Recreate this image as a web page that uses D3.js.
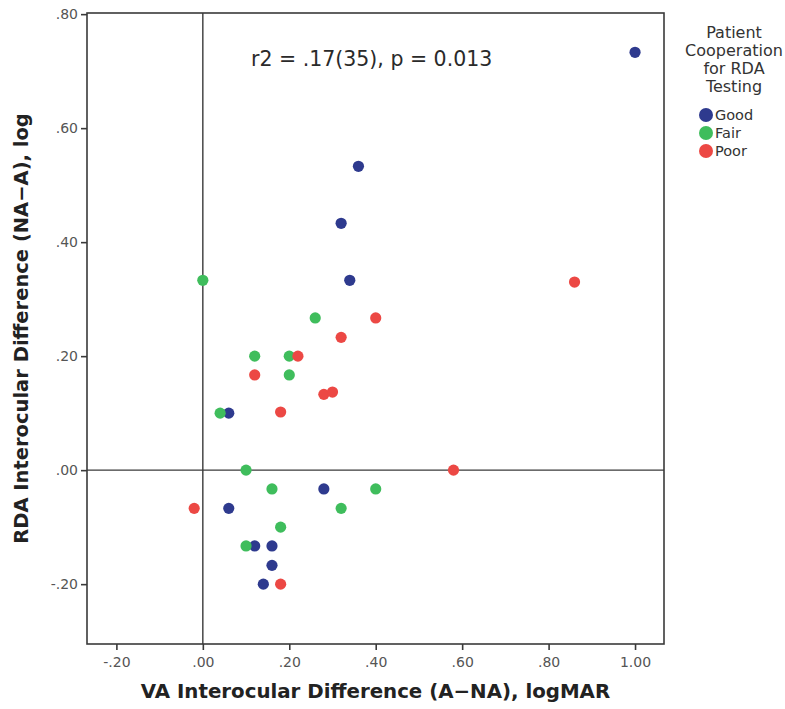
<!DOCTYPE html>
<html><head><meta charset="utf-8">
<script src="https://cdn.jsdelivr.net/npm/d3@7"></script>
<style>
body{margin:0;background:#fff;}
svg{display:block;font-family:"DejaVu Sans",Verdana,sans-serif;}
</style></head>
<body>
<svg id="c" width="785" height="709"></svg>
<script>
// ---- data ----
const categories = ["Good", "Fair", "Poor"];
const colors = ["#2e3a8e", "#3fbd5c", "#ec4844"];
const goodX = [1.00, 0.36, 0.32, 0.34, 0.06, 0.28, 0.06, 0.12, 0.16, 0.16, 0.14];
const goodY = [0.733, 0.533, 0.433, 0.333, 0.10, -0.033, -0.067, -0.133, -0.133, -0.167, -0.20];
const fairX = [0.00, 0.26, 0.12, 0.20, 0.20, 0.04, 0.10, 0.16, 0.40, 0.32, 0.18, 0.10];
const fairY = [0.333, 0.267, 0.20, 0.20, 0.167, 0.10, 0.00, -0.033, -0.033, -0.067, -0.10, -0.133];
const poorX = [0.86, 0.40, 0.32, 0.22, 0.12, 0.18, 0.28, 0.30, 0.58, -0.02, 0.18];
const poorY = [0.33, 0.267, 0.233, 0.20, 0.167, 0.102, 0.133, 0.137, 0.00, -0.067, -0.20];
const xTicks = [-0.2, 0, 0.2, 0.4, 0.6, 0.8, 1.0];
const yTicks = [-0.2, 0, 0.2, 0.4, 0.6, 0.8];
const xTitle = "VA Interocular Difference (A\u2212NA), logMAR";
const yTitle = "RDA Interocular Difference (NA\u2212A), log";
const annotation = "r2 = .17(35), p = 0.013";
const legendTitle = ["Patient", "Cooperation", "for RDA", "Testing"];

const seriesX = [goodX, fairX, poorX];
const seriesY = [goodY, fairY, poorY];

// ---- layout ----
const L = 87, R = 664, T = 13, B = 644;
const x = d3.scaleLinear().domain([-0.268, 1.067]).range([L, R]);
const y = d3.scaleLinear().domain([-0.305, 0.802]).range([B, T]);
const fmt = v => {
  if (v === 1) return "1.00";
  const neg = v < 0;
  const s = Math.abs(v).toFixed(2).replace(/^0\./, ".");
  return (neg ? "-" : "") + s;
};

const svg = d3.select("#c");
const axisCol = "#3a3a3a";

// reference lines
svg.append("line").attr("x1", x(0)).attr("x2", x(0)).attr("y1", T).attr("y2", B)
  .attr("stroke", axisCol).attr("stroke-width", 1.4);
svg.append("line").attr("x1", L).attr("x2", R).attr("y1", y(0)).attr("y2", y(0))
  .attr("stroke", axisCol).attr("stroke-width", 1.4);

// frame
svg.append("rect").attr("x", L).attr("y", T).attr("width", R - L).attr("height", B - T)
  .attr("fill", "none").attr("stroke", axisCol).attr("stroke-width", 1.6);

// axes
const xa = svg.append("g").attr("transform", `translate(0,${B})`)
  .call(d3.axisBottom(x).tickValues(xTicks).tickFormat(fmt).tickSize(6).tickPadding(4));
const ya = svg.append("g").attr("transform", `translate(${L},0)`)
  .call(d3.axisLeft(y).tickValues(yTicks).tickFormat(fmt).tickSize(6).tickPadding(3));
[xa, ya].forEach(a => {
  a.select(".domain").remove();
  a.selectAll(".tick line").attr("stroke", axisCol).attr("stroke-width", 1.6);
  a.selectAll(".tick text").attr("fill", "#555").attr("font-size", 14)
   .attr("font-family", "DejaVu Sans, sans-serif");
});
xa.selectAll(".tick text").attr("dy", "0.9em");

// points
seriesX.forEach((xs, i) => {
  svg.append("g").selectAll("circle").data(xs.map((v, j) => [v, seriesY[i][j]]))
    .join("circle").attr("cx", d => x(d[0])).attr("cy", d => y(d[1]))
    .attr("r", 5.6).attr("fill", colors[i]);
});

// annotation
svg.append("text").attr("x", 251).attr("y", 66).attr("font-size", 20.5).attr("fill", "#2a2a2a")
  .text(annotation);

// axis titles
svg.append("text").attr("x", (L + R) / 2).attr("y", 698).attr("text-anchor", "middle")
  .attr("font-weight", "bold").attr("font-size", 19.8).attr("fill", "#222").text(xTitle);
svg.append("text").attr("transform", `translate(28,${(T + B) / 2}) rotate(-90)`)
  .attr("text-anchor", "middle").attr("font-weight", "bold").attr("font-size", 19.5)
  .attr("fill", "#222").text(yTitle);

// legend
const lg = svg.append("g");
legendTitle.forEach((t, i) => {
  lg.append("text").attr("x", 734).attr("y", 38 + i * 18).attr("text-anchor", "middle")
    .attr("font-size", 16).attr("fill", "#333").text(t);
});
categories.forEach((c, i) => {
  const cy = 115 + i * 18;
  lg.append("circle").attr("cx", 706).attr("cy", cy).attr("r", 7).attr("fill", colors[i]);
  lg.append("text").attr("x", 715).attr("y", cy + 5).attr("font-size", 14.5).attr("fill", "#333").text(c);
});
</script>
</body></html>
